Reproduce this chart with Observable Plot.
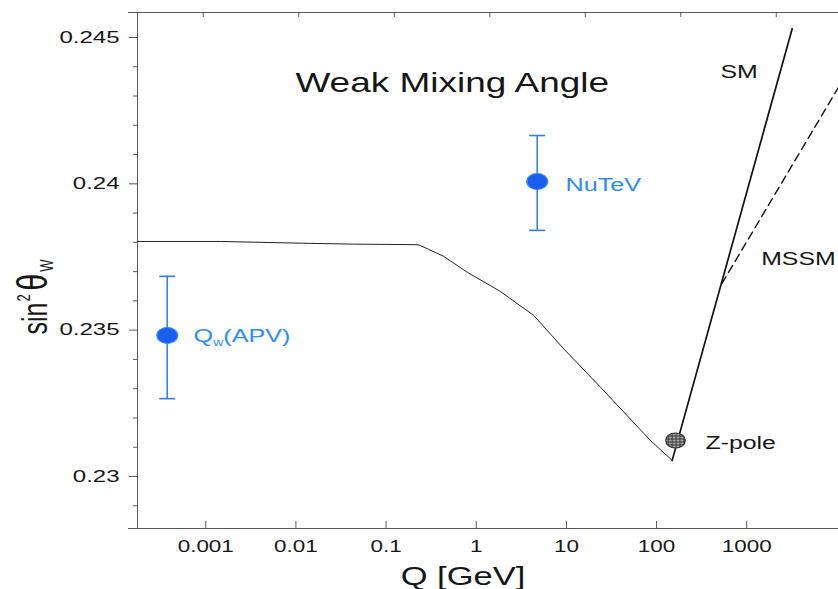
<!DOCTYPE html>
<html><head><meta charset="utf-8">
<script src="https://cdn.jsdelivr.net/npm/d3@7"></script>
<script src="https://cdn.jsdelivr.net/npm/@observablehq/plot@0.6"></script>
<style>
html,body{margin:0;padding:0;background:#fff}
#chart svg{display:block}
</style>
</head><body><div id="chart"></div><script>
// ---- data ----
const xDomain = [1.75e-4, 10424];
const yDomain = [0.228223, 0.245854];

const xTicks = [0.001, 0.01, 0.1, 1, 10, 100, 1000];
const xTickLabels = ["0.001", "0.01", "0.1", "1", "10", "100", "1000"];
const topTicks = [9.38e-4, 0.01075, 0.1234, 1.414, 16.2, 185.7, 2127];
const yTicks = [0.23, 0.235, 0.24, 0.245];
const yTickLabels = ["0.23", "0.235", "0.24", "0.245"];
const yMinor = [0.229, 0.231, 0.232, 0.233, 0.234, 0.236, 0.237, 0.238, 0.239, 0.241, 0.242, 0.243, 0.244];

// running sin^2 theta_W curve
const runQ = [1.75e-4, 0.00146, 0.01214, 0.0435, 0.2215, 0.241, 0.4365, 0.794, 1.858, 4.35, 9.36, 23.9, 85.6, 149];
const runS = [0.23803, 0.23803, 0.23797, 0.23794, 0.23792, 0.23789, 0.23752, 0.23698, 0.23632, 0.23550, 0.23436, 0.23305, 0.23123, 0.23055];
// SM and MSSM extrapolations
const smQ = [149, 3194];
const smS = [0.23055, 0.24530];
const mssmQ = [530, 10424];
const mssmS = [0.23659, 0.24330];

// measurements
const measNames = ["APV", "NuTeV"];
const measQ = [3.74e-4, 4.745];
const measS = [0.23482, 0.24008];
const measLo = [0.23266, 0.23841];
const measHi = [0.23684, 0.24165];
const zQ = [162.2];
const zS = [0.23123];

// labels
const labText = ["SM", "MSSM", "Z-pole"];
const labQ = [511.7, 1446, 348.9];
const labS = [0.24360, 0.23721, 0.23095];
const blueText = ["NuTeV", "Q"];
const blueQ = [9.77, 7.32e-4];
const blueS = [0.23977, 0.23461];

const title = "Weak Mixing Angle";
const xLabel = "Q [GeV]";

// ---- build tables ----
const run = runQ.map((q, i) => ({q, s: runS[i]}));
const sm = smQ.map((q, i) => ({q, s: smS[i]}));
const mssm = mssmQ.map((q, i) => ({q, s: mssmS[i]}));
const meas = measNames.map((n, i) => ({n, q: measQ[i], s: measS[i], lo: measLo[i], hi: measHi[i]}));
const caps = meas.flatMap(d => [{q: d.q, s: d.lo}, {q: d.q, s: d.hi}]);
const zp = zQ.map((q, i) => ({q, s: zS[i]}));
const labs = labText.map((t, i) => ({t, q: labQ[i], s: labS[i]}));
const blabs = blueText.map((t, i) => ({t, q: blueQ[i], s: blueS[i]}));

const capSymbol = {draw(ctx, size) { const w = Math.sqrt(size / Math.PI); ctx.moveTo(-w, 0); ctx.lineTo(w, 0); }};

const axisColor = "#5a5a5a";
const blue = "#2a7df5";
const markerBlue = "#1a5ef0";
const plotH = 589 - 12 - 61, plotW = 838 - 137;

const chart = Plot.plot({
  width: 838, height: 589,
  marginLeft: 137, marginRight: 0, marginTop: 12, marginBottom: 61,
  style: {fontFamily: "'Liberation Sans', Arial, sans-serif", fontSize: "16px", background: "#fff", color: "#161616"},
  x: {type: "log", domain: xDomain},
  y: {domain: yDomain},
  marks: [
    Plot.ruleX([xDomain[0]], {stroke: axisColor}),
    Plot.ruleY(yDomain, {stroke: axisColor, insetLeft: -9}),
    Plot.tickX(xTicks, {stroke: axisColor, insetTop: plotH - 7}),
    Plot.tickX(topTicks, {stroke: axisColor, insetBottom: plotH - 5}),
    Plot.tickY(yMinor, {stroke: axisColor, insetLeft: -4, insetRight: plotW}),
    Plot.axisY({ticks: yTicks, tickSize: 8, tickPadding: 10, stroke: axisColor, tickFormat: (d) => yTickLabels[yTicks.indexOf(d)], label: null, fontSize: 16}),
    Plot.axisX({ticks: xTicks, tickSize: 0, tickPadding: 12, tickFormat: (d) => xTickLabels[xTicks.indexOf(d)], label: null, fontSize: 16}),
    Plot.line(run, {x: "q", y: "s", stroke: "#222", strokeWidth: 1}),
    Plot.line(mssm, {x: "q", y: "s", stroke: "#111", strokeWidth: 1.4, strokeDasharray: "8,5"}),
    Plot.line(sm, {x: "q", y: "s", stroke: "#111", strokeWidth: 1.7}),
    Plot.ruleX(meas, {x: "q", y1: "lo", y2: "hi", stroke: blue, strokeWidth: 1.5}),
    Plot.dot(caps, {x: "q", y: "s", symbol: capSymbol, r: 8, fill: "none", stroke: blue, strokeWidth: 1.6}),
    Plot.dot(meas, {x: "q", y: "s", r: 8, fill: markerBlue, stroke: "#3b86ff", strokeWidth: 1}),
    Plot.dot(zp, {x: "q", y: "s", r: 7.5, fill: "url(#hatch)", stroke: "#333", strokeWidth: 1}),
    Plot.text(labs, {x: "q", y: "s", text: "t", textAnchor: "start", lineAnchor: "bottom", fontSize: 18, fill: "#161616"}),
    Plot.text(blabs, {x: "q", y: "s", text: "t", textAnchor: "start", lineAnchor: "bottom", fontSize: 18, fill: "#2a8cff"}),
    Plot.text([title], {frameAnchor: "top-left", dx: 314.7, dy: 79.7, textAnchor: "middle", lineAnchor: "bottom", fontSize: 28, fill: "#161616"}),
    Plot.text([xLabel], {frameAnchor: "bottom-left", dx: 325.5, dy: 56, textAnchor: "middle", lineAnchor: "bottom", fontSize: 25, fill: "#161616"})
  ]
});
document.getElementById("chart").appendChild(chart);

// ---- post-processing ----
const svg = d3.select(chart);
// hatch pattern for the Z-pole marker
const defs = svg.insert("defs", ":first-child");
const pat = defs.append("pattern").attr("id", "hatch").attr("patternUnits", "userSpaceOnUse").attr("width", 3).attr("height", 3);
pat.append("rect").attr("width", 3).attr("height", 3).attr("fill", "#b0b0b0");
pat.append("path").attr("d", "M0,0.5H3M0.5,0V3").attr("stroke", "#333").attr("stroke-width", 0.8);

// the scanned lettering is wider than the font: stretch glyphs with textLength
const stretchOf = new Map();
yTickLabels.forEach(t => stretchOf.set(t, 1.5));
xTickLabels.forEach(t => stretchOf.set(t, 1.4));
labText.forEach(t => stretchOf.set(t, 1.38));
blueText.forEach(t => stretchOf.set(t, 1.4));
stretchOf.set(title, 1.32);
stretchOf.set(xLabel, 1.38);

svg.selectAll("text").each(function() {
  const c = this.textContent;
  if (!stretchOf.has(c)) return;
  const s = stretchOf.get(c);
  if (c === "Q") {
    const t = d3.select(this);
    t.text(null);
    t.append("tspan").text("Q");
    t.append("tspan").attr("font-size", 10).attr("dy", 4).text("w");
    t.append("tspan").attr("dy", -4).text("(APV)");
  }
  const len = this.getComputedTextLength();
  this.setAttribute("textLength", (len * s).toFixed(1));
  this.setAttribute("lengthAdjust", "spacingAndGlyphs");
});

// ellipse-shaped markers
svg.selectAll("circle").each(function() {
  const f = this.getAttribute("fill") || this.parentNode.getAttribute("fill") || "";
  if (f === markerBlue || f.startsWith("url(")) {
    const cx = +this.getAttribute("cx"), cy = +this.getAttribute("cy");
    this.setAttribute("transform", `translate(${cx},${cy}) scale(1.3,1) translate(${-cx},${-cy})`);
  }
});

// y-axis title sin^2 theta_W
const yl = svg.append("text").attr("transform", "translate(47,297) scale(1.4,1) rotate(-90)")
  .attr("font-size", 25).attr("fill", "#161616").attr("font-family", "'Liberation Sans', Arial, sans-serif");
yl.append("tspan").text("sin");
yl.append("tspan").attr("font-size", 13).attr("dy", -12).attr("dx", 1).text("2");
yl.append("tspan").attr("font-size", 30).attr("dy", 12).attr("dx", 4).text("θ");
yl.append("tspan").attr("font-size", 13).attr("dy", 4).attr("dx", 2).text("W");
</script></body></html>
